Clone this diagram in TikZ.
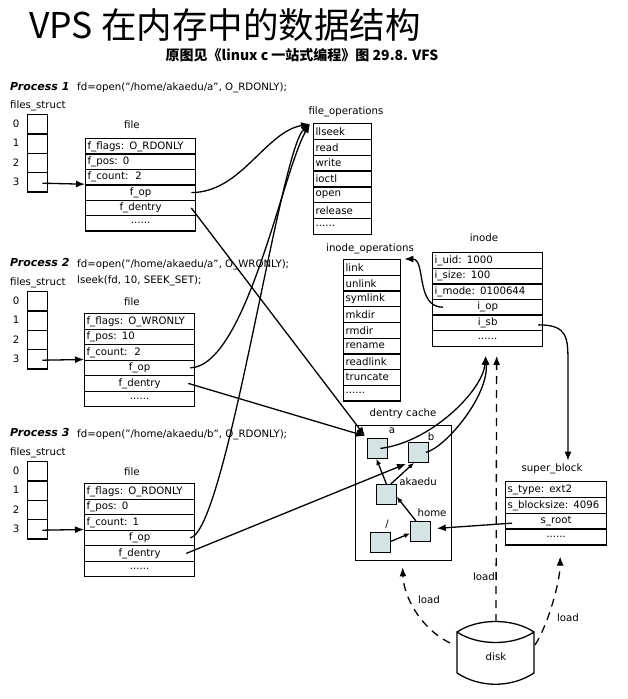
\documentclass[tikz,border=0pt]{standalone}
\usepackage{fontspec}
\setmainfont{DejaVu Sans}
\newfontfamily\cjk{Noto Sans CJK SC}
\usetikzlibrary{arrows.meta,calc}
\definecolor{dentfill}{RGB}{212,228,228}

% one record: name, left, top, width, row height, rows (alignment/text)
\newcommand\recbox[6]{%
  \pgfmathsetmacro\recw{#4-4}%
  \foreach \a/\t [count=\k] in {#6}{%
    \node[cell, text width=\recw pt, minimum width=#4pt, minimum height=#5pt]
      (#1-\k) at (#2,{#3+(\k-1)*#5}) {\a{\t}};
  }}
% a files_struct column of four slots: name, left, top
\newcommand\fstruct[3]{%
  \foreach \k in {0,...,3}{%
    \node[slot] (#1-\k) at (#2,{#3+\k*19.3}) {};
    \node at ({#2-11},{#3+\k*19.3+9.8}) {\k};
  }}
\newcommand\cc[1]{\makebox[\recw pt][c]{#1}}
\newcommand\more{......}

\begin{document}
\begin{tikzpicture}[x=1pt,y=-1pt,
  every node/.style={font=\fontsize{10.2}{12}\selectfont, inner sep=0pt},
  cell/.style={draw, line width=1.3pt, inner xsep=2pt, inner ysep=0pt, align=left, anchor=north west},
  slot/.style={draw, line width=1.3pt, minimum width=19.5pt, minimum height=19.3pt, anchor=north west},
  proc/.style={font=\fontsize{11}{13}\selectfont\bfseries\itshape, anchor=base west},
  txt/.style={anchor=base west},
  link/.style={line width=1.3pt, -{Latex[length=9pt,width=7pt]}},
  small/.style={line width=1.3pt, -{Latex[length=6pt,width=5pt]}},
  loadline/.style={link, dash pattern=on 8pt off 6pt},
  dent/.style={draw, line width=1.3pt, fill=dentfill, minimum size=19.5pt, anchor=north west}]
\useasboundingbox (0,0) rectangle (628,699);

% headings
\node (title) at (225,25) {\cjk\fontsize{35.5}{40}\selectfont VPS 在内存中的数据结构};
\node (sub) at (302,55) {\cjk\bfseries\fontsize{14}{16}\selectfont 原图见《linux c 一站式编程》图 29.8. VFS};

% ---- process 1
\node[proc] (p1) at (10,90) {Process 1};
\node[txt] (c1) at (77,90) {fd=open("/home/akaedu/a", O\_RDONLY);};
\node[txt] (fs1l) at (10,108) {files\_struct};
\fstruct{s1}{27}{114}
\node[txt] (f1l) at (124,128) {file};
\recbox{f1}{85}{138}{110}{15.4}{\relax/f\_flags: O\_RDONLY, \relax/f\_pos: 0, \relax/f\_count:\ \ 2, \cc/f\_op, \cc/f\_dentry, \cc/\more}

% ---- process 2
\node[proc] (p2) at (10,266) {Process 2};
\node[txt] (c2) at (77,267) {fd=open("/home/akaedu/a", O\_WRONLY);};
\node[txt] (c2b) at (77,283) {lseek(fd, 10, SEEK\_SET);};
\node[txt] (fs2l) at (10,285) {files\_struct};
\fstruct{s2}{27}{291}
\node[txt] (f2l) at (124,305) {file};
\recbox{f2}{84}{313}{110}{15.5}{\relax/f\_flags: O\_WRONLY, \relax/f\_pos: 10, \relax/f\_count:\ \ 2, \cc/f\_op, \cc/f\_dentry, \cc/\more}

% ---- process 3
\node[proc] (p3) at (10,436) {Process 3};
\node[txt] (c3) at (77,437) {fd=open("/home/akaedu/b", O\_RDONLY);};
\node[txt] (fs3l) at (10,455) {files\_struct};
\fstruct{s3}{27}{461}
\node[txt] (f3l) at (124,475) {file};
\recbox{f3}{84}{483}{110}{15.5}{\relax/f\_flags: O\_RDONLY, \relax/f\_pos: 0, \relax/f\_count: 1, \cc/f\_op, \cc/f\_dentry, \cc/\more}

% ---- operation tables, inode, super block
\node (fopsl) at (346,112) {file\_operations};
\recbox{fops}{313}{123}{58}{15.8}{\relax/llseek, \relax/read, \relax/write, \relax/ioctl, \relax/open, \relax/release, \relax/\more}
\node (iopsl) at (370,249) {inode\_operations};
\recbox{iops}{343}{259}{57}{15.7}{\relax/link, \relax/unlink, \relax/symlink, \relax/mkdir, \relax/rmdir, \relax/rename, \relax/readlink, \relax/truncate, \relax/\more}
\node (inol) at (484,238) {inode};
\recbox{ino}{432}{252}{110}{15.6}{\relax/i\_uid: 1000, \relax/i\_size: 100, \relax/i\_mode: 0100644, \cc/i\_op, \cc/i\_sb, \cc/\more}
\node (sbl) at (552,469) {super\_block};
\recbox{sb}{505}{481}{101}{15.8}{\relax/s\_type: ext2, \relax/s\_blocksize: 4096, \cc/s\_root, \cc/\more}

% ---- dentry cache
\node (dcl) at (403,414) {dentry cache};
\node[draw, line width=1.3pt, minimum width=96pt, minimum height=135pt, anchor=north west] (dcache) at (355,425) {};
\node[dent] (da) at (367,438) {};
\node[dent] (db) at (408,442) {};
\node[dent] (dak) at (376,484) {};
\node[dent] (dh) at (410,521) {};
\node[dent] (dr) at (370,532) {};
\node (dal) at (392,431) {a};
\node (dbl) at (431,437) {b};
\node (dakl) at (418,482) {akaedu};
\node (dhl) at (432,513) {home};
\node (drl) at (387,524) {/};

% ---- disk
\draw[line width=1.3pt] (457,632) -- (457,673) .. controls (480,688) and (511,688) .. (534,673) -- (534,632)
  .. controls (513,618) and (478,618) .. (457,632) .. controls (478,646) and (513,646) .. (534,632);
\node (disk) at (496,657) {disk};
\coordinate (dkl) at (450,643);
\coordinate (dkt) at (496,622);
\coordinate (dkr) at (535,645);

% ---- connectors
\coordinate (fopsin) at ($(fops-1.north west)+(-3,1)$);
\coordinate (dain) at ($(da.north west)+(-2,-2)$);
\coordinate (dbin) at ($(db.south west)+(-2,1)$);
\coordinate (inoin) at ($(ino-6.south)+(-2,9)$);

\foreach \p in {1,2,3}{\draw[link] ($(s\p-3.center)+(5,1)$) -- (f\p-4.north west);}

\draw[link] ($(f1-4.east)+(-5,0)$) .. controls +(50,0) and +(-45,8) .. (fopsin);
\draw[link] ($(f2-4.east)+(-5,0)$) .. controls +(56,-2) and +(-27,46) .. (fopsin);
\draw[link] ($(f3-4.east)+(-5,0)$) .. controls +(36,-7) and +(-30,26) .. (fopsin);

\draw[link] ($(f1-5.east)+(-5,0)$) -- (dain);
\draw[link] ($(f2-5.east)+(-7,0)$) -- (dain);
\draw[link] ($(f3-5.east)+(-9,0)$) -- (dbin);

\draw[small] (dak.north) -- ($(da.south)+(-1,0)$);
\draw[small] ($(dak.north east)+(-6,0)$) -- ($(db.south west)+(6,0)$);
\draw[small] ($(dh.north west)+(6,0)$) -- ($(dak.south east)+(0,-8)$);
\draw[small] ($(dr.east)+(0,-1)$) -- ($(dh.west)+(0,2)$);

\draw[link] ($(da.center)+(3,0)$) .. controls +(50,-6) and +(-3,35) .. (inoin);
\draw[link] ($(db.east)+(-3,0)$) .. controls +(20,-5) and +(3,40) .. (inoin);

\draw[link] ($(ino-4.west)+(11,0)$) .. controls +(-28,0) and +(22,0) .. ($(iops-1.north east)+(3,0)$);
\coordinate (sbin) at ($(sbl.north)+(16,-3)$);
\draw[link] ($(ino-5.east)+(-5,2)$) .. controls +(30,0) and +(0,-28) .. ($(sbin)+(0,-95)$) -- (sbin);
\draw[link] ($(sb-3.west)+(7,2)$) -- ($(dh.east)+(6,-3)$);

\draw[loadline] (dkl) .. controls +(-30,-15) and +(1,29) .. ($(dcache.south)+(-1,6)$);
\draw[loadline] (dkt) -- ($(ino-6.south)+(9,9)$);
\draw[loadline] (dkr) .. controls +(13,-20) and +(0,25) .. ($(sb-4.south)+(4,11)$);
\node (ld1) at (429,600) {load};
\node (ld2) at (484,577) {load};
\node (ld3) at (568,618) {load};
\end{tikzpicture}
\end{document}
